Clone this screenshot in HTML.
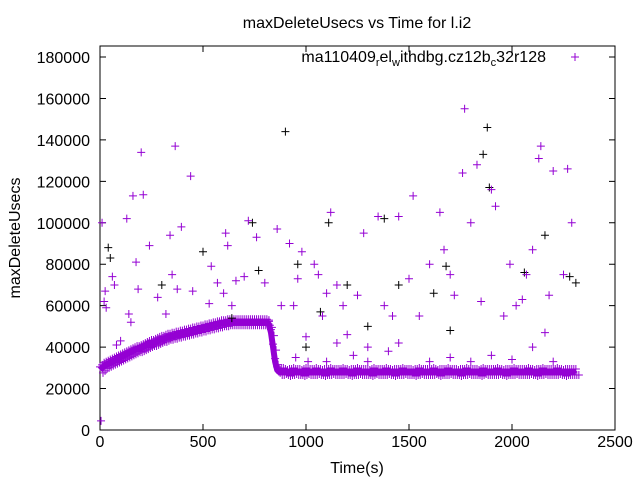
<!DOCTYPE html>
<html><head><meta charset="utf-8"><style>
body{margin:0;background:#fff}
svg{display:block;font-family:"Liberation Sans",sans-serif}
</style></head><body>
<svg id="c" width="640" height="480">
<rect width="640" height="480" fill="#fff"/>
<text x="357" y="28" text-anchor="middle" font-size="16">maxDeleteUsecs vs Time for l.i2</text>
<text transform="translate(20,238) rotate(-90)" text-anchor="middle" font-size="16">maxDeleteUsecs</text>
<text x="357" y="473" text-anchor="middle" font-size="16">Time(s)</text>
<g id="axes"></g>
<g id="marks"></g>
<g>
<text x="546" y="62" text-anchor="end" font-size="16">ma110409<tspan font-size="11" dy="4">r</tspan><tspan dy="-4">el</tspan><tspan font-size="11" dy="4">w</tspan><tspan dy="-4">ithdbg.cz12b</tspan><tspan font-size="11" dy="4">c</tspan><tspan dy="-4">32r128</tspan></text>
<path d="M571 57h8M575 53v8" stroke="#9400d3" stroke-width="1"/>
</g>
</svg>
<script>
const xTicks=[0,500,1000,1500,2000,2500];
const yTicks=[0,20000,40000,60000,80000,100000,120000,140000,160000,180000];
const bandStart=0, bandStep=10;
const bandValues=[29,30,31,31.5,32,32.5,33,33.5,34,34.5,35,35.5,36,36.5,37,37.5,38,38.5,39,39,39.5,40,40.5,41,41.5,42,42,42.5,43,43.5,44,44,44.5,45,45,45.5,45.5,46,46,46.5,46.5,47,47,47.5,47.5,48,48,48.5,48.5,49,49,49.5,49.5,50,50,50.5,50.5,51,51,51.5,51.5,51.5,52,52,52,52,52,52,52,52,52,52,52,52,52,52,52,52,52,52,52,52,51,47,40,33,29,
28,28,28.5,28,27.5,28,28,28.5,28,28,28,27.5,28,28.5,28,28,28,28,28.5,28,28,27.5,28,28,28,28.5,28,28,28,28,
28,28.5,28,28,27.5,28,28,28,28.5,28,28,28,28,28,27.5,28,28.5,28,28,28,28,28,28.5,28,28,27.5,28,28,28,28,
28.5,28,28,28,28,27.5,28,28,28.5,28,28,28,28,28,28,28.5,28,27.5,28,28,28,28,28.5,28,28,28,28,27.5,28,28,
28,28.5,28,28,28,28,28,27.5,28,28.5,28,28,28,28,28,28,28.5,28,28,27.5,28,28,28,28,28.5,28,28,28,28,28,
28,28.5,28,28,27.5,28,28,28,28.5,28,28,28,28,28,28,28.5,28,28,27.5,28,28,28,28,28,28];
const purpleT=[5,10,20,25,30,60,70,80,100,130,140,150,160,175,185,200,210,240,280,320,340,350,365,375,395,440,450,530,540,570,600,610,620,640,660,700,720,760,800,820,860,880,920,940,960,980,1000,1040,1060,1080,1100,1120,1150,1180,1200,1250,1280,1300,1350,1380,1420,1450,1500,1520,1550,1600,1650,1670,1700,1720,1760,1770,1800,1830,1850,1900,1920,1960,1990,2020,2050,2070,2100,2130,2140,2160,2180,2200,2250,2270,2290,950,1010,1100,1150,1230,1300,1400,1450,1600,1700,1800,1900,2000,2100,2200];
const purpleV=[4400,100000,62000,67000,59000,74000,70000,41000,43000,102000,56000,52000,113000,81000,68000,134000,113500,89000,64000,56000,94000,75000,137000,68000,98000,122500,67000,61000,79000,71000,66000,95000,89000,60000,72000,74000,101000,93000,71000,53000,97000,60000,90000,60000,73000,86000,45000,80000,75000,55000,66000,105000,70000,60000,46000,65000,95000,40000,103000,60000,55000,103000,73000,113000,55000,80000,105000,87000,75000,65000,124000,155000,100000,128000,62000,116000,108000,55000,80000,60000,63000,75000,87000,131000,137000,47000,65000,125000,75000,126000,100000,35000,33000,33000,42000,36000,33000,38000,42000,33000,35000,33000,36000,34000,40000,33000];
const blackT=[40,50,300,500,640,740,770,900,960,1070,1110,1200,1380,1450,1620,1680,1860,1880,1890,2060,2160,2280,2310,1000,1300,1700];
const blackV=[88000,83000,70000,86000,54000,100000,77000,144000,80000,57000,100000,70000,102000,70000,66000,79000,133000,146000,117000,76000,94000,74000,71000,40000,50000,48000];

const L=100,R=615,T=46,B=430;
const X=v=>L+v/2500*(R-L);
const Y=v=>B-v/180000*(B-57);
const NS='http://www.w3.org/2000/svg';
const axes=document.getElementById('axes'), marks=document.getElementById('marks');
function mk(tag,parent,attrs){const e=document.createElementNS(NS,tag);for(const k in attrs)e.setAttribute(k,attrs[k]);parent.appendChild(e);return e;}
const frame=mk('rect',axes,{x:L,y:T,width:R-L,height:B-T,fill:'none',stroke:'#000','stroke-width':1});


xTicks.forEach(t=>{
  const x=X(t);
  const tk=mk('path',axes,{d:`M${x} ${B}v-6M${x} ${T}v6`,stroke:'#000'});
  
  
  const lb=mk('text',axes,{x:x,y:B+17,'text-anchor':'middle','font-size':16});
  lb.textContent=t;
  
  
});
yTicks.forEach(t=>{
  const y=Y(t);
  const tk=mk('path',axes,{d:`M${L} ${y}h6M${R} ${y}h-6`,stroke:'#000'});
  
  
  const lb=mk('text',axes,{x:L-10,y:y+6,'text-anchor':'end','font-size':16});
  lb.textContent=t;
  
  
});
function plus(x,y,c,name){
  const p=mk('path',marks,{d:`M${x-4} ${y}h8M${x} ${y-4}v8`,stroke:c,'stroke-width':1});
  
  
}
let pts=bandValues.map((v,i)=>X(bandStart+i*bandStep)+','+Y(v*1000)).join(' ');
const band=mk('polyline',marks,{points:pts,fill:'none',stroke:'#9400d3','stroke-width':6,'stroke-linejoin':'round'});


bandValues.forEach((v,i)=>{const x=X(bandStart+i*bandStep),y=Y(v*1000);plus(x,y-3,'#9400d3','band-point');plus(x+3,y+3,'#9400d3','band-point');});
blackT.forEach((t,i)=>plus(X(t),Y(blackV[i]),'#000','black-point'));
purpleT.forEach((t,i)=>plus(X(t),Y(purpleV[i]),'#9400d3','purple-point'));
</script>
</body></html>
